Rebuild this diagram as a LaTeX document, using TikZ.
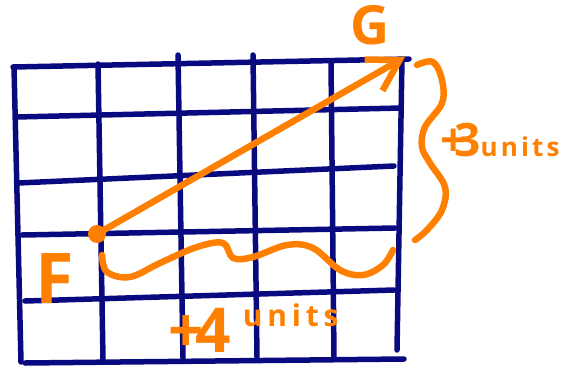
\documentclass[tikz,border=0pt]{standalone}
\usepackage{fontspec}
\setmainfont{Open Sans}
\usepackage{xcolor}
\usepackage{tikz}
\usetikzlibrary{arrows.meta}
\definecolor{gridnavy}{RGB}{10,10,128}
\definecolor{penorange}{RGB}{255,128,0}

\begin{document}
\begin{tikzpicture}[x=1pt,y=-1pt,
  gridline/.style={gridnavy,line width=5.5pt,line cap=round},
  pen/.style={penorange,line width=6.5pt,line cap=round,line join=round},
  hand/.style={penorange,inner sep=0pt}]
  \useasboundingbox (0,0) rectangle (566,368);
  \draw[gridline] (13,67) -- (409,59);
  \draw[gridline] (16,117) -- (401,108);
  \draw[gridline] (18,183) -- (394,166);
  \draw[gridline] (22,235) -- (395,228);
  \draw[gridline] (25,301) -- (394,290);
  \draw[gridline] (25,363) -- (404,359);
  \draw[gridline] (14,67) -- (21,362);
  \draw[gridline] (98,64) -- (103,360);
  \draw[gridline] (178,55) -- (183,358);
  \draw[gridline] (253,55) -- (257,357);
  \draw[gridline] (331,62) -- (334,357);
  \draw[gridline] (402,60) -- (397,350);
  \coordinate (F) at (97,234);
  \coordinate (G) at (405,57);
  \fill[penorange] (F) circle (9pt);
  \draw[pen,-{Straight Barb[length=30pt,width=36pt]}] (F) -- (G);
  \node[hand,font=\bfseries\fontsize{70}{70}\selectfont] (flabel) at (55,279) {F};
  \node[hand,font=\bfseries\fontsize{54}{54}\selectfont] (glabel) at (370,25) {G};
  \draw[pen] plot[smooth,tension=0.6] coordinates {(102,255) (107,272) (130,277)
    (160,263) (197,247) (223,243) (233,258) (253,257) (287,245) (313,248)
    (340,270) (363,275) (383,265) (393,250)};
  \draw[pen] plot[smooth,tension=0.6] coordinates {(417,65) (433,62) (442,80)
    (442,103) (425,127) (422,147) (430,163) (445,187) (442,210) (427,230)
    (415,240)};
  \node[hand,anchor=base west,font=\bfseries] (vertlabel) at (440,156)
    {{\fontsize{46}{46}\selectfont+\kern-12pt3}{\fontsize{26}{26}\selectfont\addfontfeature{LetterSpace=12}units}};
  \node[hand,anchor=base west,font=\bfseries] (horzlabel) at (168,352)
    {{\fontsize{62}{62}\selectfont+\kern-8pt4}\hspace{12pt}\raisebox{26pt}{\fontsize{30}{30}\selectfont\addfontfeature{LetterSpace=16}units}};
\end{tikzpicture}
\end{document}
